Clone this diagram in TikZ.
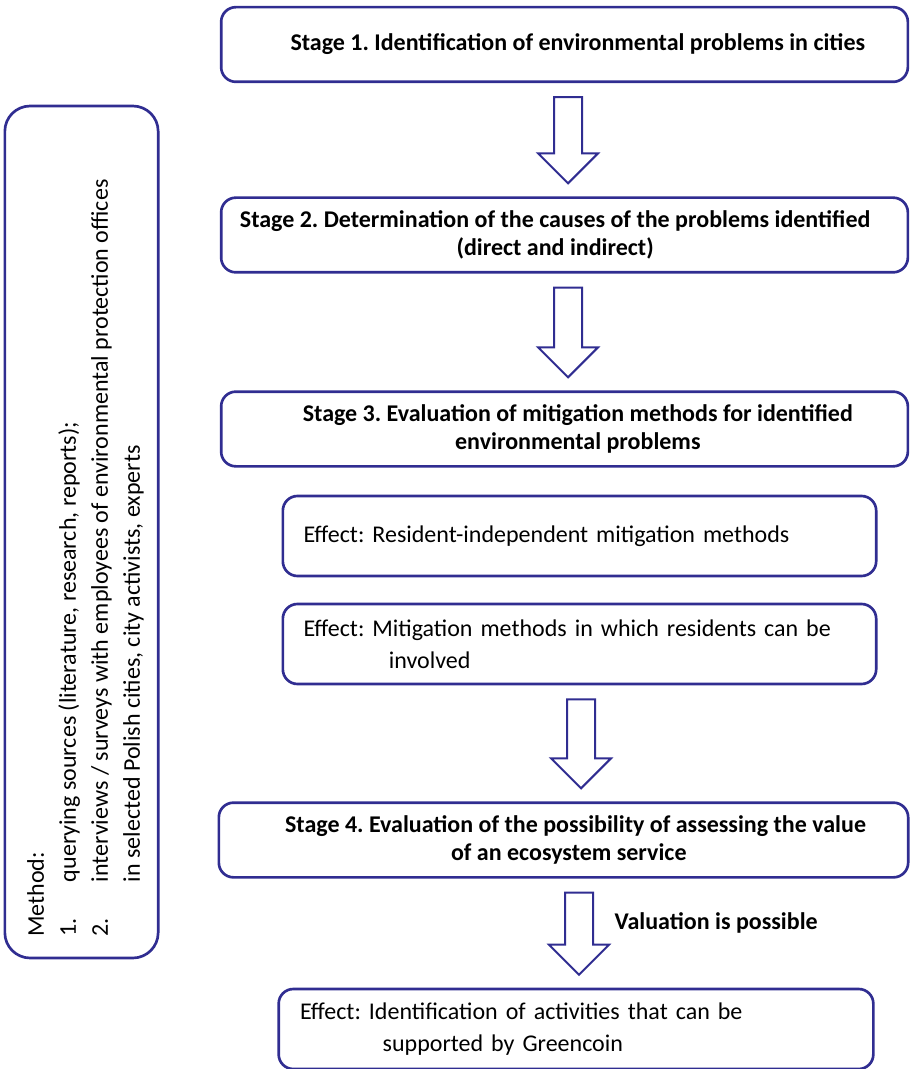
\documentclass[tikz,border=0pt]{standalone}
\usepackage{fontspec}
\setmainfont{Carlito}
\frenchspacing
\usetikzlibrary{calc}
\definecolor{flowblue}{RGB}{48,45,145}
\tikzset{
  stagebox/.style={draw=flowblue,line width=2pt,rounded corners=11pt,
              minimum width=515pt,minimum height=56pt,align=center,
              font=\fontsize{18}{21}\selectfont\bfseries},
  effectbox/.style={draw=flowblue,line width=2pt,rounded corners=11pt,
              minimum width=445pt,minimum height=60pt,
              text width=414pt,align=left,
              font=\fontsize{18}{24}\selectfont},
  methodbox/.style={draw=flowblue,line width=2pt,rounded corners=19pt,
              minimum width=115pt,minimum height=639pt},
  arrblock/.style={draw=flowblue,line width=1.5pt,fill=white,line join=miter},
  lbl/.style={font=\fontsize{18}{21}\selectfont\bfseries,anchor=west},
}
% hollow block arrow from one box down to the next, along column #3
\newcommand{\blockarrow}[3]{%
  \coordinate (ba-top) at ($(#3 |- #1.south)+(0,14)$);
  \coordinate (ba-tip) at ($(#3 |- #2.north)+(0,-13)$);
  \draw[arrblock] ($(ba-top)+(-14,0)$) -- ($(ba-top)+(14,0)$)
    -- ($(ba-tip)+(14,-30)$) -- ($(ba-tip)+(30,-30)$) -- (ba-tip)
    -- ($(ba-tip)+(-30,-30)$) -- ($(ba-tip)+(-14,-30)$) -- cycle;}

\begin{document}
\begin{tikzpicture}[x=0.75pt,y=-0.75pt]
  \useasboundingbox (0,0) rectangle (910,1069);
  % stages
  \node[stagebox](s1) at (564.5,44.5)
    {\hspace*{20pt}Stage 1. Identification of environmental problems in cities};
  \node[stagebox](s2) at (564.5,235)
    {Stage 2. Determination of the causes of the problems identified\hspace*{14pt}\\(direct and indirect)\hspace*{14pt}};
  \node[stagebox](s3) at (564.5,429)
    {\hspace*{20pt}Stage 3. Evaluation of mitigation methods for identified\\\hspace*{20pt}environmental problems};
  \node[effectbox](e1) at (579.5,536)
    {Effect: Resident-independent mitigation methods};
  \node[effectbox](e2) at (579.5,644)
    {Effect: Mitigation methods in which residents can be\\\hspace*{64pt}involved};
  \node[stagebox,minimum width=517pt](s4) at (563.5,840)
    {\hspace*{18pt}Stage 4. Evaluation of the possibility of assessing the value\\\hspace*{8pt}of an ecosystem service};
  \node[effectbox,minimum width=446pt](e3) at (576,1029)
    {Effect: Identification of activities that can be\\\hspace*{62pt}supported by Greencoin};
  % method panel
  \node[methodbox](meth) at (81.5,532) {};
  \node[rotate=90,anchor=north west,inner sep=0pt,align=left,
        font=\fontsize{18}{24}\selectfont](methtxt) at (27,937)
    {Method:\\
     \makebox[41pt][l]{1.}querying sources (literature, research, reports);\\
     \makebox[41pt][l]{2.}interviews / surveys with employees of environmental protection offices\\
     \hspace*{41pt}in selected Polish cities, city activists, experts};
  % arrows
  \coordinate (col1) at (568,0);
  \coordinate (col2) at (581,0);
  \coordinate (col3) at (579,0);
  \blockarrow{s1}{s2}{col1}
  \blockarrow{s2}{s3}{col1}
  \blockarrow{e2}{s4}{col2}
  \blockarrow{s4}{e3}{col3}
  \node[lbl](val) at (610,923) {Valuation is possible};
\end{tikzpicture}
\end{document}
